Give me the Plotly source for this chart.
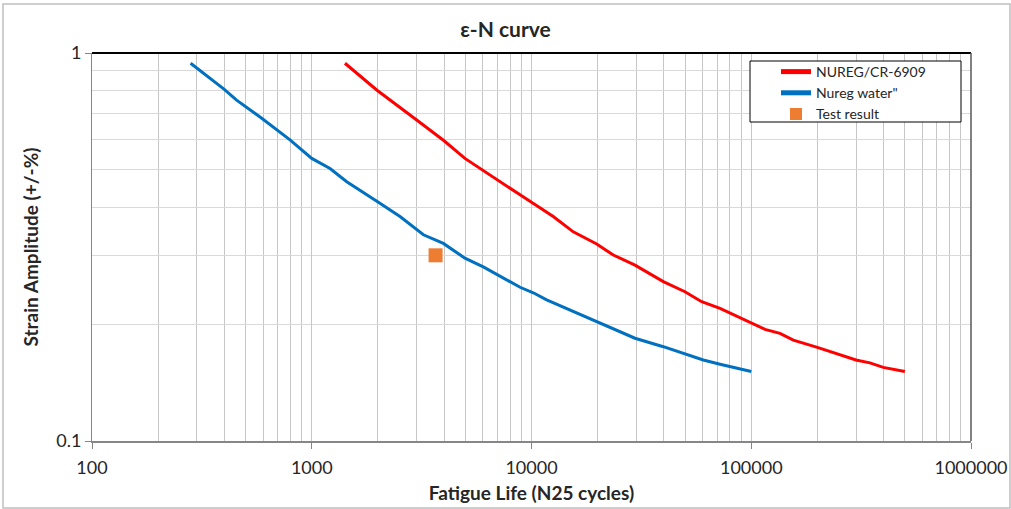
import plotly.graph_objects as go

# ---- data ----
nureg_N = [1416, 1975, 3003, 4000, 4977, 6945, 8870, 12560, 15490, 19800, 23560, 29580,
           39800, 49930, 59500, 72100, 88900, 115500, 135100, 155400, 199800, 244700,
           299700, 346700, 399000, 500000]
nureg_eps = [0.941, 0.803, 0.672, 0.594, 0.535, 0.471, 0.431, 0.379, 0.346, 0.322, 0.3015, 0.284,
             0.2575, 0.2425, 0.2286, 0.2198, 0.2083, 0.194, 0.1895, 0.182, 0.1743, 0.168,
             0.1617, 0.159, 0.1548, 0.151]

water_N = [281, 400, 455, 592, 796, 1000, 1211, 1443, 1986, 2521, 3222, 3970, 4977, 6035,
           8872, 10190, 11720, 19800, 23560, 29580, 39800, 49930, 60500, 72100, 100000]
water_eps = [0.941, 0.806, 0.756, 0.679, 0.597, 0.535, 0.504, 0.466, 0.414, 0.379, 0.340, 0.323,
             0.296, 0.281, 0.249, 0.241, 0.231, 0.203, 0.194, 0.184, 0.175, 0.168, 0.1617,
             0.1577, 0.151]

test_N = [3660]
test_eps = [0.301]

x_ticks = [100, 1000, 10000, 100000, 1000000]
x_tick_text = ["100", "1000", "10000", "100000", "1000000"]
y_ticks = [0.1, 1]
y_tick_text = ["0.1", "1"]

x_minor = [m * 10 ** e for e in range(2, 6) for m in range(2, 10)]
y_minor = [m / 10 for m in range(2, 10)]

FONT = "Lato, 'Open Sans', sans-serif"
DARK = "#262626"

# pixel geometry of the plot area (used only for converting layout positions)
PL, PR, PT, PB = 92, 971, 53, 441
PW, PH = PR - PL, PB - PT


def px_x(x):
    return (x - PL) / PW


def px_y(y):
    return (PB - y) / PH


fig = go.Figure()
fig.add_trace(go.Scatter(x=nureg_N, y=nureg_eps, mode="lines", name="NUREG/CR-6909",
                         line=dict(color="#FF0000", width=3)))
fig.add_trace(go.Scatter(x=water_N, y=water_eps, mode="lines", name='Nureg water"',
                         line=dict(color="#0070C0", width=3)))
fig.add_trace(go.Scatter(x=test_N, y=test_eps, mode="markers", name="Test result",
                         marker=dict(color="#ED7D31", symbol="square", size=14)))

fig.update_layout(
    width=1011, height=509,
    margin=dict(l=PL, r=1011 - PR, t=PT, b=509 - PB),
    paper_bgcolor="white", plot_bgcolor="white",
    font=dict(family=FONT, color=DARK, size=14),
    title=dict(text="<b>ε-N curve</b>", x=0.5, xref="container", xanchor="center",
               y=1 - 30 / 509, yref="container", yanchor="middle",
               font=dict(size=21, color=DARK, family=FONT)),
    legend=dict(x=px_x(776), y=px_y(56), xanchor="left", yanchor="top",
                borderwidth=0, bgcolor="rgba(0,0,0,0)",
                font=dict(size=14, color=DARK, family=FONT),
                tracegroupgap=0, itemsizing="constant"),
    showlegend=True,
)

fig.update_xaxes(
    type="log", range=[2, 6], automargin=False,
    tickmode="array", tickvals=x_ticks, ticktext=x_tick_text,
    ticks="outside", ticklen=6, tickcolor="#868686",
    showgrid=True, gridcolor="#c6c6c6", gridwidth=1,
    minor=dict(tickmode="array", tickvals=x_minor, showgrid=True, gridcolor="#c6c6c6",
               gridwidth=1, ticks=""),
    showline=True, linecolor="#868686", linewidth=2,
    zeroline=False,
    tickfont=dict(size=18, color=DARK),
    ticklabelstandoff=3,
    title=dict(text="<b>Fatigue Life (N25 cycles)</b>", standoff=10,
               font=dict(size=19, color=DARK)),
)
fig.update_yaxes(
    type="log", range=[-1, 0], automargin=False,
    tickmode="array", tickvals=y_ticks, ticktext=y_tick_text,
    ticks="outside", ticklen=6, tickcolor="#868686",
    showgrid=False,
    minor=dict(tickmode="array", tickvals=y_minor, showgrid=True, gridcolor="#d9d9d9",
               gridwidth=1, ticks=""),
    showline=True, linecolor="#868686", linewidth=1,
    zeroline=False,
    tickfont=dict(size=18, color=DARK),
    title=dict(text="<b>Strain Amplitude (+/-%)</b>", standoff=12,
               font=dict(size=19, color=DARK)),
)

# plot-area top and right borders
fig.add_shape(type="line", xref="paper", yref="paper", x0=0, x1=1, y0=1, y1=1,
              line=dict(color="#000000", width=2))
fig.add_shape(type="line", xref="paper", yref="paper", x0=1, x1=1, y0=0, y1=1,
              line=dict(color="#595959", width=1.5))
# legend frame
fig.add_shape(type="rect", xref="paper", yref="paper",
              x0=px_x(750), x1=px_x(961), y0=px_y(122), y1=px_y(61),
              line=dict(color="#000000", width=1), fillcolor="white", layer="above")
# outer chart border
fig.add_shape(type="rect", xref="paper", yref="paper",
              x0=px_x(3), x1=px_x(1010), y0=px_y(508), y1=px_y(4),
              line=dict(color="#bfbfbf", width=1.5), fillcolor="rgba(0,0,0,0)", layer="below")

fig.write_html("out.html", config={"displayModeBar": False},
               post_script="document.body.style.margin='0';document.body.style.padding='0';")
